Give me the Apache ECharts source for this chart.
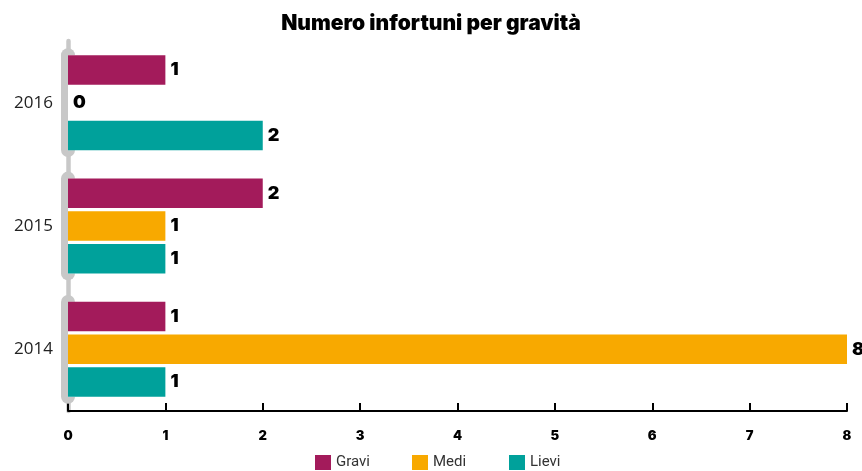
<!DOCTYPE html>
<html>
<head>
<meta charset="utf-8">
<script src="https://cdn.jsdelivr.net/npm/echarts@6/dist/echarts.min.js"></script>
<style>
  html, body { margin: 0; padding: 0; background: #fff; }
  #chart { width: 862px; height: 471px; }
</style>
</head>
<body>
<div id="chart"></div>
<script>
// Accidents by severity, per year
const years = ['2014', '2015', '2016'];
const gravi = [1, 2, 1];
const medi = [8, 1, 0];
const lievi = [1, 1, 2];
const xTicks = [0, 1, 2, 3, 4, 5, 6, 7, 8];
const severities = ['Gravi', 'Medi', 'Lievi'];

const colors = { Gravi: '#a31b5b', Medi: '#f8a900', Lievi: '#00a19b' };
const heavyFont = 'Inter';

const chart = echarts.init(document.getElementById('chart'));

function barSeries(name, data) {
  return {
    name: name,
    type: 'bar',
    data: data,
    barWidth: 29.5,
    barGap: '11%',
    z: 3,
    itemStyle: { color: colors[name] },
    label: {
      show: true,
      position: 'right',
      distance: 5,
      color: '#000',
      fontFamily: heavyFont,
      fontWeight: 900,
      fontSize: 18
    }
  };
}

// grey bracket behind each year's group of bars
const bracketSeries = {
  type: 'custom',
  silent: true,
  z: 1,
  data: years.map((y, i) => [0, i]),
  encode: { x: 0, y: 1 },
  renderItem: function (params, api) {
    const p = api.coord([0, api.value(1)]);
    const band = api.size([0, 1])[1];
    const h = band * 0.882;
    const inner = band * 0.77;
    return {
      type: 'group',
      children: [
        {
          type: 'rect',
          shape: { x: p[0] - 7, y: p[1] - h / 2, width: 14, height: h, r: 7 },
          style: { fill: '#c8c8c8' }
        },
        {
          type: 'rect',
          shape: { x: p[0], y: p[1] - inner / 2, width: 8, height: inner },
          style: { fill: '#ffffff' }
        }
      ]
    };
  }
};

// one legend entry per severity, evenly spaced
const legendLeft = [315, 412, 509];
const legends = severities.map((name, i) => ({
  data: [name],
  left: legendLeft[i],
  top: 455,
  padding: 0,
  itemWidth: 16,
  itemHeight: 15,
  icon: 'rect',
  textStyle: { fontFamily: 'Roboto', fontSize: 15, color: '#333' }
}));

chart.setOption({
  animation: false,
  title: {
    text: 'Numero infortuni per gravità',
    left: 'center',
    top: 8,
    textStyle: { fontFamily: heavyFont, fontWeight: 900, fontSize: 21, color: '#000' }
  },
  legend: legends,
  grid: { left: 68, right: 15, top: 41, bottom: 60, containLabel: false },
  xAxis: {
    type: 'value',
    min: xTicks[0],
    max: xTicks[xTicks.length - 1],
    interval: 1,
    splitLine: { show: false },
    axisLine: { show: true, lineStyle: { color: '#000', width: 2 } },
    axisTick: { show: true, inside: true, length: 8, lineStyle: { color: '#000', width: 2 } },
    axisLabel: {
      margin: 19,
      color: '#000',
      fontFamily: heavyFont,
      fontWeight: 900,
      fontSize: 13
    }
  },
  yAxis: {
    type: 'category',
    data: years,
    axisLine: { show: true, lineStyle: { color: '#c8c8c8', width: 4.5 } },
    axisTick: { show: false },
    axisLabel: { margin: 15, color: '#222', fontFamily: 'Open Sans', fontSize: 17 }
  },
  series: [
    bracketSeries,
    barSeries('Gravi', gravi),
    barSeries('Medi', medi),
    barSeries('Lievi', lievi)
  ]
});
</script>
</body>
</html>
